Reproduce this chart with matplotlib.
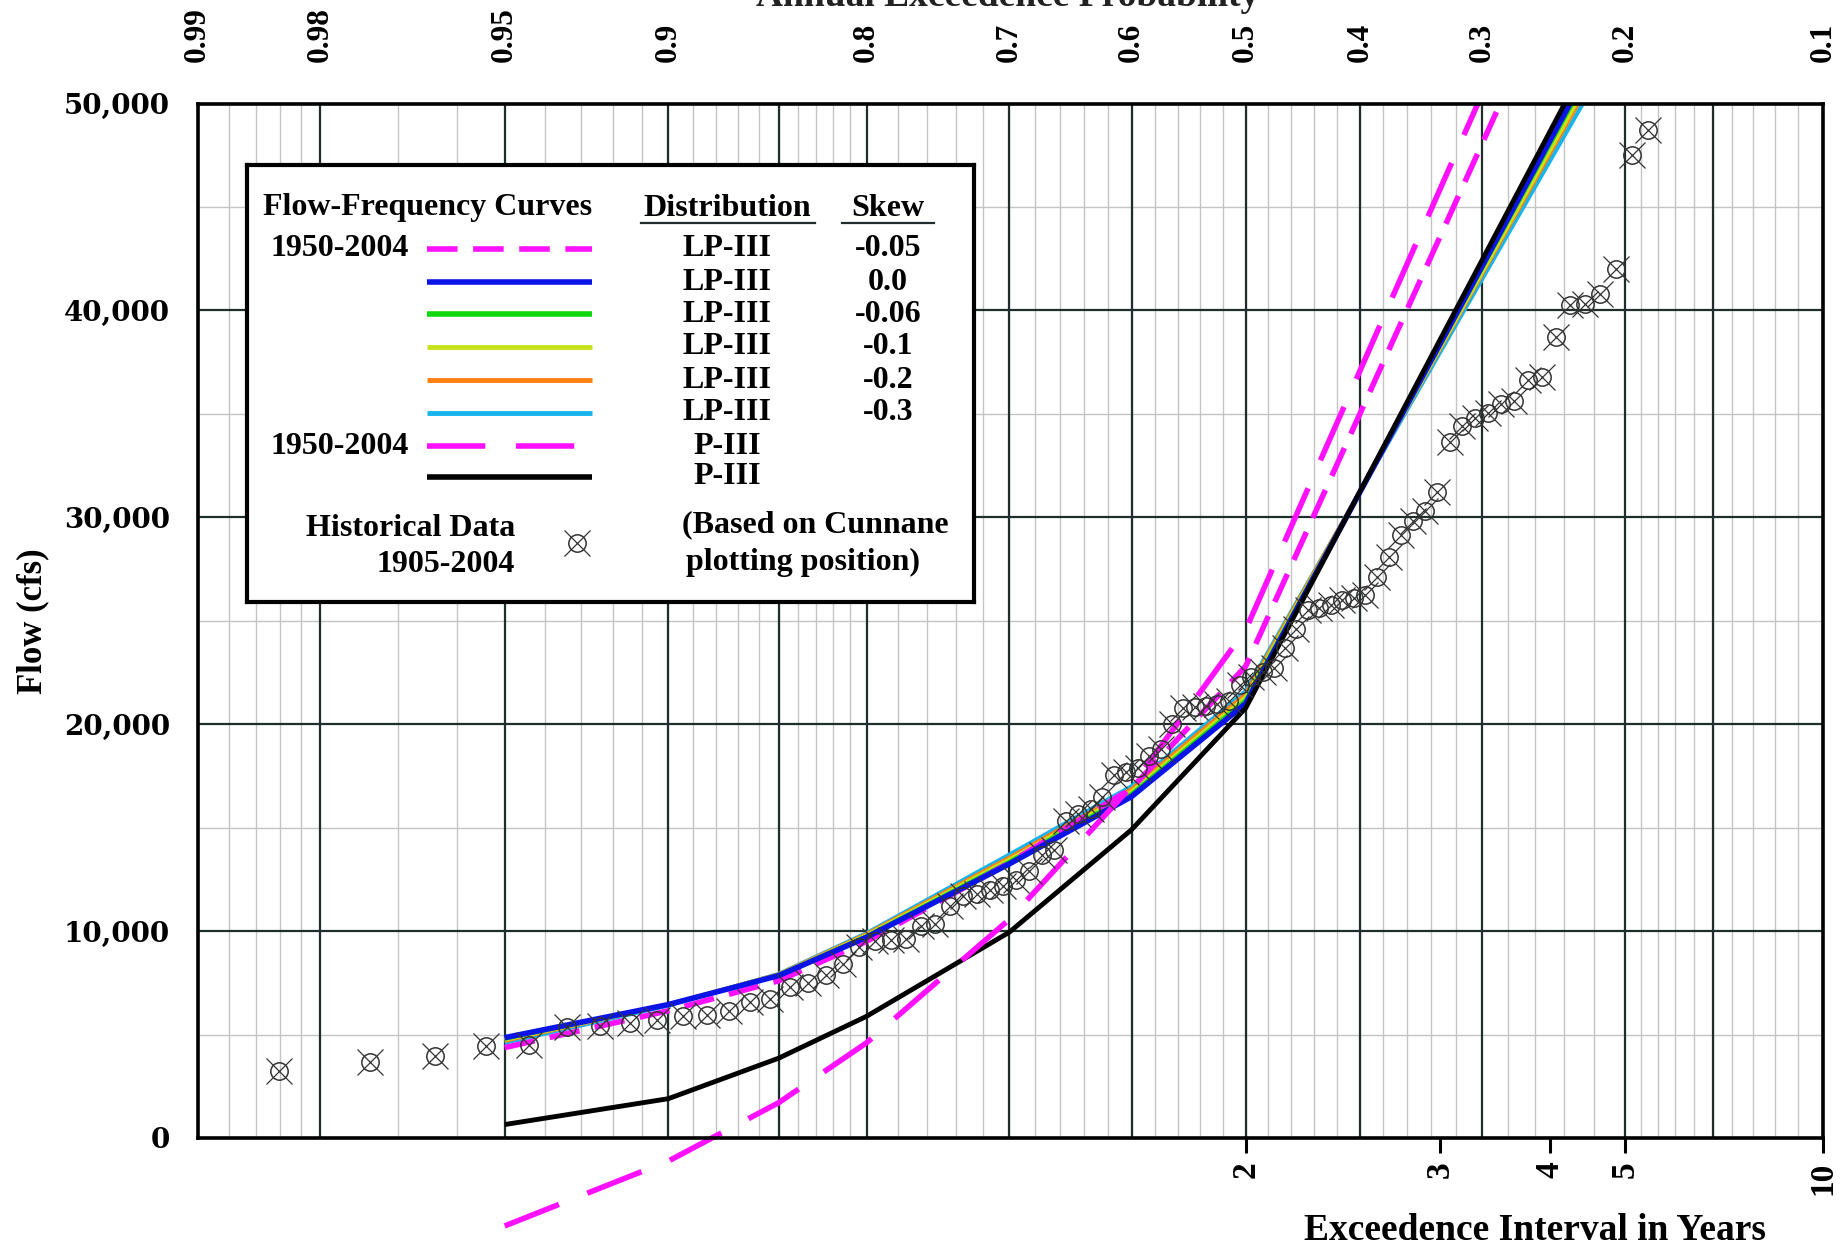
import numpy as np
import matplotlib.pyplot as plt
from matplotlib.patches import Rectangle
from statistics import NormalDist

# annual exceedance probabilities where the frequency curves were evaluated
curve_prob = [0.95, 0.9, 0.85, 0.8, 0.7, 0.6, 0.5, 0.2]

# flow (cfs) for each curve at curve_prob
lp3_1950_2004 = [4370, 6150, 7600, 9500, 13300, 16900, 22800, 63300]
lp3_skew_0 = [4850, 6450, 7850, 9700, 13250, 16500, 21000, 54900]
lp3_skew_006 = [4800, 6450, 7870, 9750, 13350, 16620, 21150, 54640]
lp3_skew_01 = [4750, 6450, 7890, 9800, 13450, 16740, 21300, 54250]
lp3_skew_02 = [4700, 6450, 7910, 9850, 13550, 16860, 21450, 54010]
lp3_skew_03 = [4600, 6400, 7930, 9900, 13700, 17000, 21600, 53530]
p3_1950_2004 = [-4250, -1115, 1710, 4600, 10570, 17000, 24560, 66100]
p3_full = [650, 1900, 3860, 5880, 9950, 14900, 20780, 55500]

# historical annual peaks 1905-2004, ranked (largest = 1); ranks 19-99 fall in the plot window
n_years = 100
first_rank = 19
hist_flow = [48700, 47500, 42000, 40800, 40300, 40250, 38700, 36800, 36650, 35600,
             35500, 35050, 34800, 34400, 33650, 31200, 30300, 29800, 29150, 28100,
             27100, 26250, 26100, 26000, 25770, 25600, 25500, 24600, 23700, 22700,
             22500, 22300, 21900, 21100, 21000, 20900, 20850, 20800, 20000, 18800,
             18450, 17900, 17700, 17550, 16500, 15900, 15650, 15300, 13900, 13700,
             12900, 12450, 12200, 12000, 11800, 11700, 11200, 10350, 10230, 9600,
             9550, 9500, 9250, 8400, 7900, 7500, 7300, 6700, 6550, 6150,
             5950, 5900, 5700, 5550, 5400, 5350, 4500, 4430, 3980, 3690, 3240]

top_ticks = [0.99, 0.98, 0.95, 0.9, 0.8, 0.7, 0.6, 0.5, 0.4, 0.3, 0.2, 0.1]
top_labels = ['0.99', '0.98', '0.95', '0.9', '0.8', '0.7', '0.6', '0.5', '0.4', '0.3', '0.2', '0.1']
years = [2, 3, 4, 5, 10]

plt.rcParams['font.family'] = 'Liberation Serif'
plt.rcParams['font.weight'] = 'bold'

nd = NormalDist()
_ppf = np.vectorize(nd.inv_cdf, otypes=[float])
_cdf = np.vectorize(nd.cdf, otypes=[float])


def fwd(p):
    return _ppf(np.clip(np.asarray(p, float), 1e-6, 1 - 1e-6))


def inv(z):
    return _cdf(np.asarray(z, float))


fig = plt.figure(figsize=(18.44, 12.5), dpi=100)
ax = fig.add_axes([0.1072, 0.0896, 0.8814, 0.8276])
ax.set_xscale('function', functions=(fwd, inv))
ax.set_xlim(0.99, 0.1)
ax.set_ylim(0, 50000)

# probability paper grid
minor_p = np.concatenate([np.arange(0.982, 0.9895, 0.002), [0.97, 0.96],
                          np.arange(0.81, 0.945, 0.01), np.arange(0.32, 0.795, 0.02),
                          [0.22, 0.24, 0.26, 0.28], np.arange(0.11, 0.195, 0.01)])
major_p = [0.98, 0.95, 0.9, 0.85, 0.8, 0.7, 0.6, 0.5, 0.4, 0.3, 0.2, 0.15]
for p in minor_p:
    ax.axvline(p, color='#c4c4c4', lw=1.0, zorder=0)
for y in range(5000, 50000, 10000):
    ax.axhline(y, color='#c4c4c4', lw=1.0, zorder=0)
for p in major_p:
    ax.axvline(p, color='#1f2d2d', lw=1.6, zorder=0.5)
for y in range(10000, 50000, 10000):
    ax.axhline(y, color='#1f2d2d', lw=1.6, zorder=0.5)

# curves clipped at the top of the plot but allowed to run below zero
clip_box = Rectangle((0, -0.5), 1, 1.5, transform=ax.transAxes, fill=False, edgecolor='none')

short_dash = (5.5, 2.8)
long_dash = (10.5, 5.5)
curves = [
    (lp3_skew_03, '#18b4f0', 3.0, None),
    (lp3_skew_02, '#ff7f10', 3.0, None),
    (lp3_skew_01, '#c6e21a', 3.0, None),
    (lp3_skew_006, '#10d810', 3.0, None),
    (lp3_1950_2004, '#ff10ff', 4.0, short_dash),
    (lp3_skew_0, '#0a14e6', 4.0, None),
    (p3_full, '#000000', 3.5, None),
    (p3_1950_2004, '#ff10ff', 4.0, long_dash),
]
for vals, col, lw, dash in curves:
    ln, = ax.plot(curve_prob, vals, color=col, lw=lw, solid_capstyle='butt',
                  solid_joinstyle='round', zorder=3)
    if dash:
        ln.set_dashes(dash)
        ln.set_dash_capstyle('butt')
    ln.set_clip_path(clip_box)

# Cunnane plotting positions
ranks = np.arange(first_rank, first_rank + len(hist_flow))
hist_p = (ranks - 0.4) / (n_years + 0.2)
ax.plot(hist_p, hist_flow, ls='none', marker='o', ms=12.5, mfc='none', mec='#333333', mew=1.1, zorder=4)
ax.plot(hist_p, hist_flow, ls='none', marker='x', ms=19, mec='#333333', mew=0.9, zorder=4)

# axes styling
for s in ax.spines.values():
    s.set_linewidth(2.6)
    s.set_zorder(5)
ax.set_yticks(range(0, 50001, 10000))
ax.set_yticklabels([f'{v:,}' for v in range(0, 50001, 10000)],
                   fontfamily='DejaVu Serif', fontweight='bold', fontsize=20)
ax.tick_params(axis='y', length=0, pad=20)
ax.set_xticks([1 / t for t in years])
ax.set_xticklabels([str(t) for t in years], rotation=90, fontsize=24)
ax.xaxis.set_minor_locator(plt.NullLocator())
ax.tick_params(axis='x', length=11, width=2.2, pad=6, direction='out')

ax_top = ax.twiny()
ax_top.set_xscale('function', functions=(fwd, inv))
ax_top.set_xlim(0.99, 0.1)
ax_top.set_xticks(top_ticks)
ax_top.set_xticklabels(top_labels, rotation=90, fontsize=22.5)
ax_top.xaxis.set_minor_locator(plt.NullLocator())
ax_top.tick_params(axis='x', length=0, pad=30)
for s in ax_top.spines.values():
    s.set_visible(False)

fig.text(0.5466, 1 - 6 / 1250, 'Annual Exceedence Probability', ha='center', va='baseline',
         fontsize=27, color='#222222')
fig.text(1535 / 1844, 1 - 1230 / 1250, 'Exceedence Interval in Years', ha='center', va='center',
         fontsize=27)
fig.text(33 / 1844, 1 - 621 / 1250, 'Flow (cfs)', rotation=90, ha='center', va='center',
         fontsize=25)

# legend box, laid out in pixel units measured from its top-left
lg = fig.add_axes([247 / 1844, 1 - 602 / 1250, 727 / 1844, 437 / 1250])
lg.set_xlim(247, 974)
lg.set_ylim(602, 165)
lg.set_xticks([])
lg.set_yticks([])
lg.set_facecolor('white')
for s in lg.spines.values():
    s.set_linewidth(3.0)

fs = 23
lg.text(263, 208, 'Flow-Frequency Curves', ha='left', va='center', fontsize=fs)
lg.text(727, 208, 'Distribution', ha='center', va='center', fontsize=fs)
lg.text(888, 208, 'Skew', ha='center', va='center', fontsize=fs)
lg.plot([641, 815], [223, 223], color='#1f2d2d', lw=1.6)
lg.plot([842, 934], [223, 223], color='#1f2d2d', lw=1.6)

legend_rows = [
    ('1950-2004', '#ff10ff', 4.0, short_dash, 'LP-III', '-0.05'),
    ('', '#0a14e6', 4.0, None, 'LP-III', '0.0'),
    ('', '#10d810', 4.0, None, 'LP-III', '-0.06'),
    ('', '#c6e21a', 3.5, None, 'LP-III', '-0.1'),
    ('', '#ff7f10', 3.5, None, 'LP-III', '-0.2'),
    ('', '#18b4f0', 3.5, None, 'LP-III', '-0.3'),
    ('1950-2004', '#ff10ff', 4.0, long_dash, 'P-III', ''),
    ('', '#000000', 4.0, None, 'P-III', ''),
]
row_y = [249, 282, 314, 347, 380, 413, 446, 477]
for (period, col, lw, dash, dist, skew), y in zip(legend_rows, row_y):
    if period:
        lg.text(409, y, period, ha='right', va='center', fontsize=fs)
    ln, = lg.plot([427, 592], [y, y], color=col, lw=lw, solid_capstyle='butt')
    if dash:
        ln.set_dashes(dash)
        ln.set_dash_capstyle('butt')
    lg.text(727, y, dist, ha='center', va='center', fontsize=fs)
    if skew:
        lg.text(888, y, skew, ha='center', va='center', fontsize=fs)

lg.text(515, 528, 'Historical Data', ha='right', va='center', fontsize=fs)
lg.text(515, 565, '1905-2004', ha='right', va='center', fontsize=fs)
lg.plot([577], [543], ls='none', marker='o', ms=12.5, mfc='none', mec='#333333', mew=1.1)
lg.plot([577], [543], ls='none', marker='x', ms=19, mec='#333333', mew=0.9)
lg.text(682, 525, '(Based on Cunnane', ha='left', va='center', fontsize=fs)
lg.text(686, 562, 'plotting position)', ha='left', va='center', fontsize=fs)

fig.savefig('out.png', dpi=100)
